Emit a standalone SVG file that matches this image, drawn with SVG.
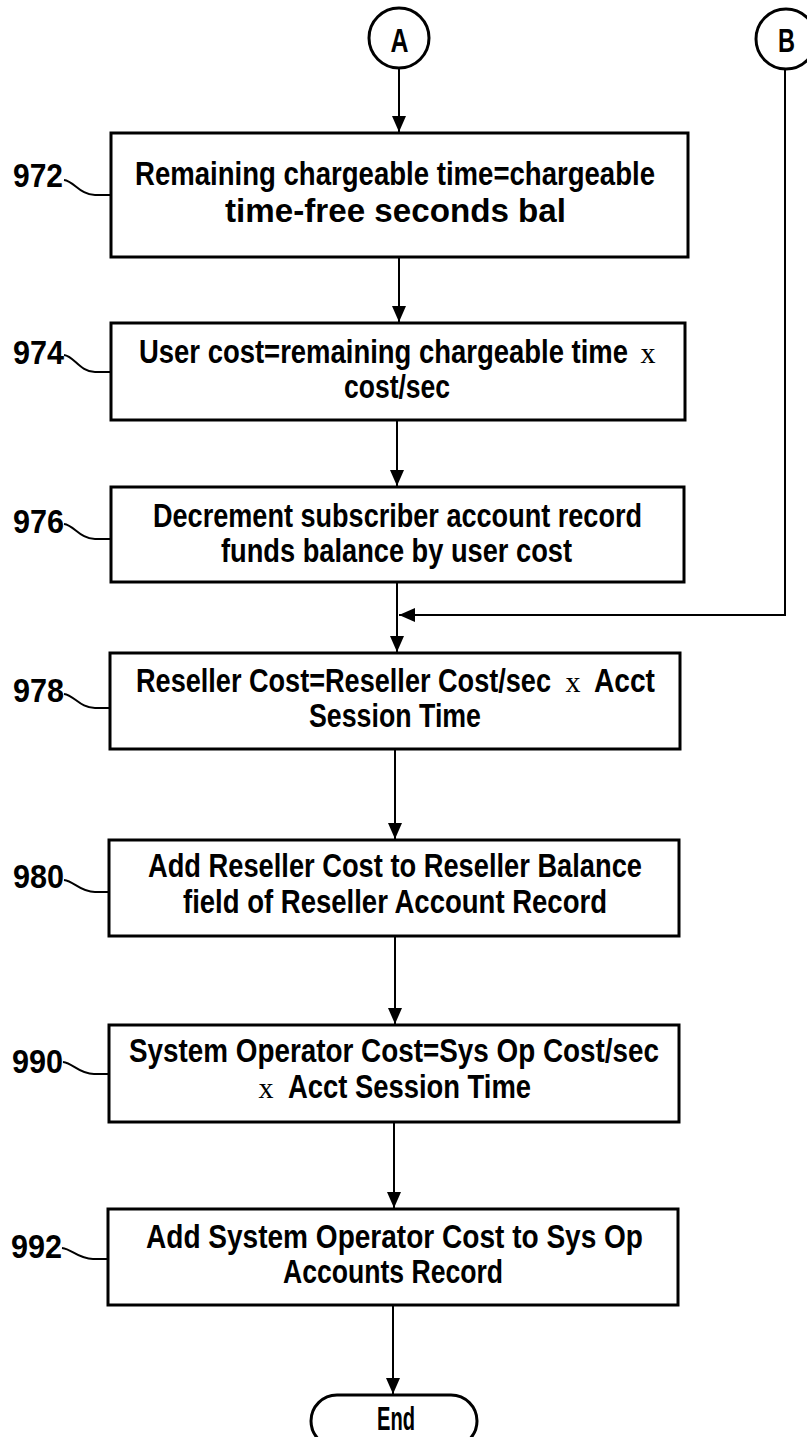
<svg xmlns="http://www.w3.org/2000/svg" width="807" height="1437" viewBox="0 0 807 1437">
<style>
.box{fill:#fff;stroke:#000;stroke-width:3}
.t{font-family:"Liberation Sans",Arial,sans-serif;font-weight:bold;font-size:33px;fill:#000}
.x{font-family:"Liberation Serif","Times New Roman",serif;font-size:30px;fill:#000}
.lbl{font-family:"Liberation Sans",Arial,sans-serif;font-weight:bold;font-size:34px;fill:#000}
.c{fill:none;stroke:#000;stroke-width:2}
.ld{fill:none;stroke:#000;stroke-width:2}
.conn{fill:#fff;stroke:#000;stroke-width:3}
</style>
<defs>
<marker id="ah" viewBox="0 0 16 14" refX="16" refY="7" markerWidth="16" markerHeight="14" markerUnits="userSpaceOnUse" orient="auto">
<path d="M0,0 L16,7 L0,14 Z" fill="#000"/>
</marker>
</defs>
<rect width="807" height="1437" fill="#fff"/>

<g id="connectors">
<path class="c" d="M399,68 L399,132" marker-end="url(#ah)"/>
<path class="c" d="M399,257 L399,322" marker-end="url(#ah)"/>
<path class="c" d="M397,420 L397,486" marker-end="url(#ah)"/>
<path class="c" d="M397,582 L397,652" marker-end="url(#ah)"/>
<path class="c" d="M785,69 L785,615 L399,615" marker-end="url(#ah)"/>
<path class="c" d="M395,749 L395,839" marker-end="url(#ah)"/>
<path class="c" d="M395,936 L395,1024" marker-end="url(#ah)"/>
<path class="c" d="M394,1122 L394,1208" marker-end="url(#ah)"/>
<path class="c" d="M393,1305 L393,1394" marker-end="url(#ah)"/>
</g>

<g id="A">
<circle class="conn" cx="399" cy="38" r="30"/>
<text class="t" x="399.5" y="52" text-anchor="middle" textLength="18" lengthAdjust="spacingAndGlyphs">A</text>
</g>
<g id="B">
<circle class="conn" cx="786" cy="39" r="30"/>
<text class="t" x="786.5" y="52" text-anchor="middle" textLength="17" lengthAdjust="spacingAndGlyphs">B</text>
</g>

<g id="n972">
<rect class="box" x="111" y="133" width="577" height="124"/>
<text class="t" x="135" y="185" textLength="520" lengthAdjust="spacingAndGlyphs">Remaining chargeable time=chargeable</text>
<text class="t" x="225" y="222" textLength="341" lengthAdjust="spacingAndGlyphs">time-free seconds bal</text>
<text class="lbl" x="13" y="187" textLength="50" lengthAdjust="spacingAndGlyphs">972</text>
<path class="ld" d="M64,180 C74,181 80,195 95,195 L111,195"/>
</g>

<g id="n974">
<rect class="box" x="111" y="323" width="574" height="97"/>
<text class="t" x="139" y="363" textLength="489" lengthAdjust="spacingAndGlyphs">User cost=remaining chargeable time</text>
<text class="x" x="648" y="363" text-anchor="middle">x</text>
<text class="t" x="344" y="398" textLength="106" lengthAdjust="spacingAndGlyphs">cost/sec</text>
<text class="lbl" x="13" y="364" textLength="51" lengthAdjust="spacingAndGlyphs">974</text>
<path class="ld" d="M64,355 C74,356 80,372 95,372 L111,372"/>
</g>

<g id="n976">
<rect class="box" x="111" y="487" width="573" height="95"/>
<text class="t" x="153" y="527" textLength="489" lengthAdjust="spacingAndGlyphs">Decrement subscriber account record</text>
<text class="t" x="221" y="562" textLength="351" lengthAdjust="spacingAndGlyphs">funds balance by user cost</text>
<text class="lbl" x="13" y="533" textLength="51" lengthAdjust="spacingAndGlyphs">976</text>
<path class="ld" d="M64,524 C74,525 80,539 95,539 L111,539"/>
</g>

<g id="n978">
<rect class="box" x="110" y="653" width="570" height="96"/>
<text class="t" x="136" y="692" textLength="415" lengthAdjust="spacingAndGlyphs">Reseller Cost=Reseller Cost/sec</text>
<text class="x" x="573" y="692" text-anchor="middle">x</text>
<text class="t" x="594" y="692" textLength="61" lengthAdjust="spacingAndGlyphs">Acct</text>
<text class="t" x="309" y="727" textLength="172" lengthAdjust="spacingAndGlyphs">Session Time</text>
<text class="lbl" x="13" y="702" textLength="51" lengthAdjust="spacingAndGlyphs">978</text>
<path class="ld" d="M64,694 C74,695 80,708 95,708 L110,708"/>
</g>

<g id="n980">
<rect class="box" x="109" y="840" width="570" height="96"/>
<text class="t" x="148" y="877" textLength="494" lengthAdjust="spacingAndGlyphs">Add Reseller Cost to Reseller Balance</text>
<text class="t" x="183" y="913" textLength="424" lengthAdjust="spacingAndGlyphs">field of Reseller Account Record</text>
<text class="lbl" x="13" y="888" textLength="51" lengthAdjust="spacingAndGlyphs">980</text>
<path class="ld" d="M64,880 C74,881 80,892 95,892 L109,892"/>
</g>

<g id="n990">
<rect class="box" x="109" y="1025" width="570" height="97"/>
<text class="t" x="129" y="1062" textLength="530" lengthAdjust="spacingAndGlyphs">System Operator Cost=Sys Op Cost/sec</text>
<text class="x" x="266" y="1098" text-anchor="middle">x</text>
<text class="t" x="288" y="1098" textLength="243" lengthAdjust="spacingAndGlyphs">Acct Session Time</text>
<text class="lbl" x="12" y="1073" textLength="51" lengthAdjust="spacingAndGlyphs">990</text>
<path class="ld" d="M63,1062 C73,1063 79,1074 94,1074 L109,1074"/>
</g>

<g id="n992">
<rect class="box" x="108" y="1209" width="570" height="96"/>
<text class="t" x="146" y="1248" textLength="497" lengthAdjust="spacingAndGlyphs">Add System Operator Cost to Sys Op</text>
<text class="t" x="283" y="1283" textLength="220" lengthAdjust="spacingAndGlyphs">Accounts Record</text>
<text class="lbl" x="11" y="1258" textLength="51" lengthAdjust="spacingAndGlyphs">992</text>
<path class="ld" d="M62,1248 C72,1249 78,1259 93,1259 L108,1259"/>
</g>

<g id="end">
<rect class="box" x="311" y="1395" width="166" height="52" rx="26" ry="26"/>
<text class="t" x="377" y="1430" textLength="38" lengthAdjust="spacingAndGlyphs">End</text>
</g>
</svg>
